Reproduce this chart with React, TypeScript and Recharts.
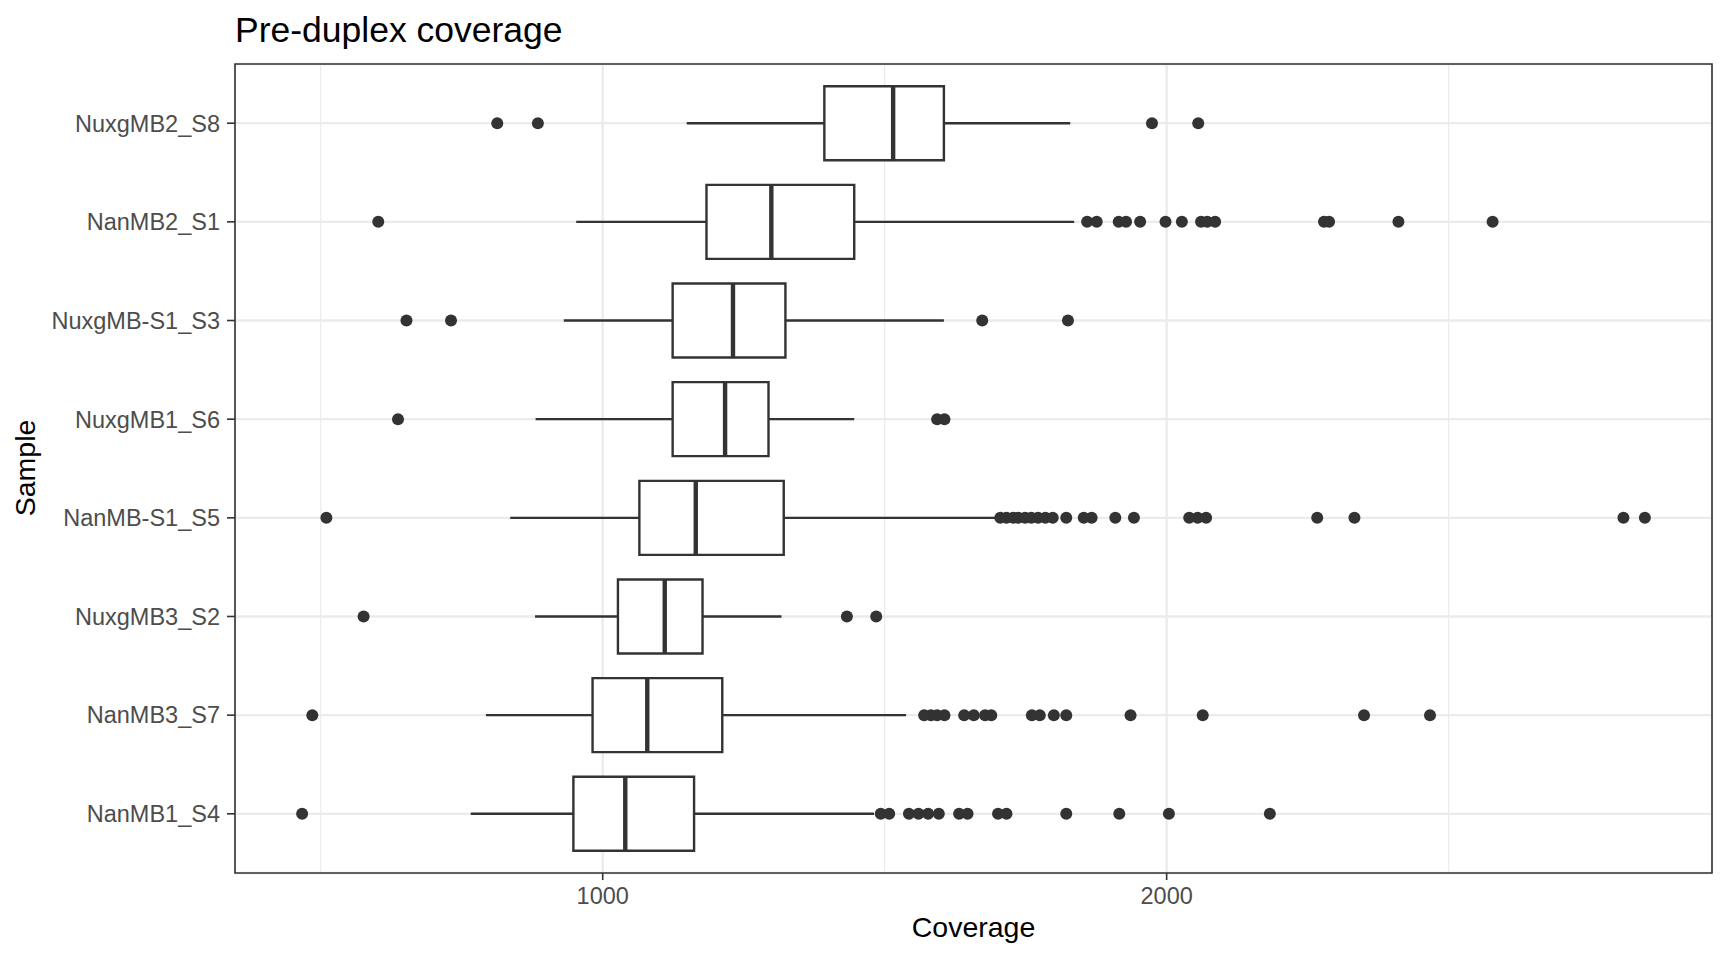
import {
  ScatterChart,
  Scatter,
  XAxis,
  YAxis,
  CartesianGrid,
  ReferenceArea,
  ReferenceLine,
} from "recharts";

// samples listed top to bottom, as they appear in the plot
const samples = [
  "NuxgMB2_S8",
  "NanMB2_S1",
  "NuxgMB-S1_S3",
  "NuxgMB1_S6",
  "NanMB-S1_S5",
  "NuxgMB3_S2",
  "NanMB3_S7",
  "NanMB1_S4",
];

const whiskerLow = [1149, 953, 931, 881, 836, 880, 793, 766];
const q1 = [1393, 1184, 1124, 1124, 1065, 1027, 982, 948];
const median = [1515, 1299, 1231, 1217, 1165, 1110, 1079, 1040];
const q3 = [1605, 1446, 1324, 1294, 1321, 1177, 1212, 1162];
const whiskerHigh = [1829, 1836, 1605, 1446, 1700, 1317, 1538, 1481];

const outliers = [
  [813, 885, 1974, 2056],
  [602, 1859, 1876, 1915, 1928, 1953, 1998, 2027, 2061, 2072, 2086, 2279, 2288, 2411, 2578],
  [652, 731, 1673, 1825],
  [637, 1593, 1606],
  [510, 1705, 1716, 1728, 1737, 1749, 1760, 1772, 1785, 1798, 1822, 1853, 1867, 1909, 1942, 2040, 2055, 2070, 2267, 2333, 2810, 2848],
  [576, 1433, 1485],
  [485, 1570, 1582, 1593, 1606, 1641, 1658, 1678, 1689, 1761, 1775, 1800, 1822, 1936, 2064, 2350, 2467],
  [467, 1493, 1508, 1543, 1560, 1577, 1596, 1632, 1647, 1701, 1716, 1822, 1916, 2004, 2183],
];

const xTicks = [1000, 2000];
const xMinorTicks = [500, 1500, 2500];

const INK = "#333333";
const GRID = "#EBEBEB";
const FONT = "'Liberation Sans', Arial, sans-serif";

// row position on the numeric y axis (bottom sample = 1)
const rowOf = (i: number) => samples.length - i;
const yTicks = samples.map((_, i) => rowOf(i)).reverse();

// ggplot-style 5% expansion of the data range
const allValues = [...whiskerLow, ...whiskerHigh, ...outliers.flat()];
const lo = Math.min(...allValues);
const hi = Math.max(...allValues);
const pad = (hi - lo) * 0.05;
const xDomain: [number, number] = [lo - pad, hi + pad];
const yDomain: [number, number] = [0.4, samples.length + 0.6];
const halfBox = 0.375;

const points = outliers.flatMap((vals, i) =>
  vals.map((v) => ({ x: v, y: rowOf(i) }))
);

// eslint-disable-next-line @typescript-eslint/no-explicit-any
const Dot = (props: any) => (
  <circle cx={props.cx} cy={props.cy} r={6} fill={INK} />
);

export default function App() {
  return (
    <div
      style={{
        position: "absolute",
        left: 0,
        top: 0,
        width: 1728,
        height: 960,
        background: "#fff",
        fontFamily: FONT,
      }}
    >
      <ScatterChart
        width={1728}
        height={960}
        margin={{ top: 64, right: 16, bottom: 0, left: 0 }}
      >
        <CartesianGrid stroke={GRID} strokeWidth={2.3} />
        <CartesianGrid
          stroke={GRID}
          strokeWidth={1.2}
          horizontal={false}
          verticalValues={xMinorTicks}
        />
        <XAxis
          type="number"
          dataKey="x"
          domain={xDomain}
          allowDataOverflow
          ticks={xTicks}
          height={87}
          axisLine={false}
          stroke={INK}
          tickLine={{ stroke: INK, strokeWidth: 1.6 }}
          tickSize={7}
          tickMargin={7}
          tick={{ fill: "#4D4D4D", fontSize: 23.5, fontFamily: FONT }}
        />
        <YAxis
          type="number"
          dataKey="y"
          domain={yDomain}
          allowDataOverflow
          ticks={yTicks}
          interval={0}
          width={235}
          axisLine={false}
          stroke={INK}
          tickLine={{ stroke: INK, strokeWidth: 1.6 }}
          tickSize={8}
          tickMargin={7}
          tickFormatter={(v: number) => samples[samples.length - v]}
          tick={{ fill: "#4D4D4D", fontSize: 23.5, fontFamily: FONT }}
        />
        {samples.map((s, i) => (
          <ReferenceLine
            key={s + "-wl"}
            segment={[
              { x: whiskerLow[i], y: rowOf(i) },
              { x: q1[i], y: rowOf(i) },
            ]}
            stroke={INK}
            strokeWidth={2.4}
          />
        ))}
        {samples.map((s, i) => (
          <ReferenceLine
            key={s + "-wh"}
            segment={[
              { x: q3[i], y: rowOf(i) },
              { x: whiskerHigh[i], y: rowOf(i) },
            ]}
            stroke={INK}
            strokeWidth={2.4}
          />
        ))}
        {samples.map((s, i) => (
          <ReferenceArea
            key={s + "-box"}
            x1={q1[i]}
            x2={q3[i]}
            y1={rowOf(i) - halfBox}
            y2={rowOf(i) + halfBox}
            fill="#ffffff"
            fillOpacity={1}
            stroke={INK}
            strokeWidth={2.4}
          />
        ))}
        {samples.map((s, i) => (
          <ReferenceLine
            key={s + "-med"}
            segment={[
              { x: median[i], y: rowOf(i) - halfBox },
              { x: median[i], y: rowOf(i) + halfBox },
            ]}
            stroke={INK}
            strokeWidth={4.4}
          />
        ))}
        <Scatter data={points} shape={Dot} isAnimationActive={false} />
        <ReferenceArea
          x1={xDomain[0]}
          x2={xDomain[1]}
          y1={yDomain[0]}
          y2={yDomain[1]}
          fill="none"
          stroke={INK}
          strokeWidth={1.6}
        />
      </ScatterChart>
      <svg
        width={1728}
        height={960}
        style={{ position: "absolute", left: 0, top: 0, pointerEvents: "none" }}
      >
        <text x={235} y={41.5} fontSize={35.5} fill="#000" fontFamily={FONT}>
          Pre-duplex coverage
        </text>
        <text
          x={973.5}
          y={937}
          fontSize={28.5}
          fill="#000"
          textAnchor="middle"
          fontFamily={FONT}
        >
          Coverage
        </text>
        <text
          x={35}
          y={468}
          fontSize={28.5}
          fill="#000"
          textAnchor="middle"
          fontFamily={FONT}
          transform="rotate(-90 35 468)"
        >
          Sample
        </text>
      </svg>
    </div>
  );
}
